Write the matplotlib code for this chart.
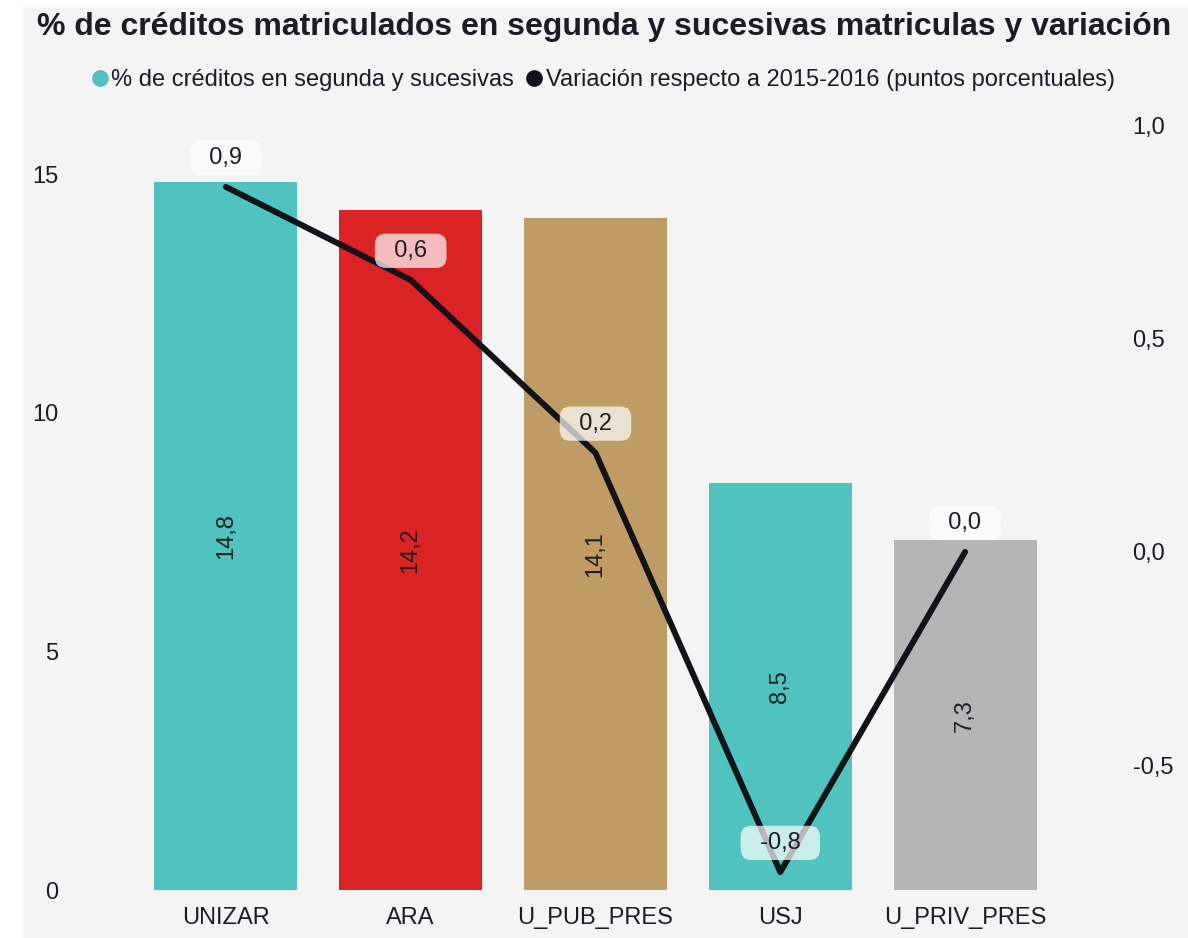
import matplotlib
matplotlib.use("Agg")
import matplotlib.pyplot as plt
from matplotlib.patches import Rectangle
from matplotlib.lines import Line2D

categories = ["UNIZAR", "ARA", "U_PUB_PRES", "USJ", "U_PRIV_PRES"]
pct_creditos = [14.83, 14.25, 14.08, 8.52, 7.33]
variacion = [0.855, 0.637, 0.232, -0.75, 0.0]
bar_colors = ["#4fc3bf", "#dc2323", "#bf9c63", "#4fc3bf", "#b5b5b5"]
left_ticks = [0, 5, 10, 15]
right_ticks = [-0.5, 0.0, 0.5, 1.0]

title = "% de créditos matriculados en segunda y sucesivas matriculas y variación"
legend_labels = ["% de créditos en segunda y sucesivas",
                 "Variación respecto a 2015-2016 (puntos porcentuales)"]

plt.rcParams['font.family'] = ['Liberation Sans', 'DejaVu Sans']
TXT = "#1c1d24"
BG = "#f4f4f4"
FS = 17

W, H = 1188, 938
fig = plt.figure(figsize=(W / 100, H / 100), dpi=100, facecolor="white")
fig.patches.append(Rectangle((23 / W, 0), 1 - 23 / W, (H - 7) / H,
                             transform=fig.transFigure, facecolor=BG,
                             edgecolor="none", zorder=-10))

def fx(px):
    return px / W

def fy(py):
    return 1 - py / H

ax_l, ax_r = 133.5, 1057.5
ax_t, ax_b = 125, 890
ax = fig.add_axes([fx(ax_l), fy(ax_b), fx(ax_r) - fx(ax_l), fy(ax_t) - fy(ax_b)])
ax.set_facecolor("none")
ax.set_xlim(-0.5, 4.5)
ax.set_ylim(0, 16.03)

x = list(range(len(categories)))
ax.bar(x, pct_creditos, width=0.773, color=bar_colors, zorder=1)
for xi, v in zip(x, pct_creditos):
    ax.text(xi, v / 2, f"{v:.1f}".replace(".", ","), rotation=90,
            ha="center", va="center", fontsize=FS, color=TXT, zorder=2)

ax.set_xticks(x)
ax.set_xticklabels(categories, fontsize=FS, color=TXT)
ax.set_yticks(left_ticks)
ax.set_yticklabels([str(t) for t in left_ticks], fontsize=FS, color=TXT)
ax.tick_params(axis="both", length=0)
ax.tick_params(axis="x", pad=12)
ax.tick_params(axis="y", pad=54)
for s in ax.spines.values():
    s.set_visible(False)

ax2 = ax.twinx()
ax2.set_ylim(-0.792, 1.0)
ax2.plot(x, variacion, color="#111318", lw=4.3, solid_capstyle="round",
         solid_joinstyle="round", zorder=3)
for xi, v in zip(x, variacion):
    ax2.annotate("  " + f"{v:.1f}".replace(".", ",") + "  ", (xi, v), xytext=(0, 21),
                 textcoords="offset points", ha="center", va="center",
                 fontsize=FS, color=TXT, zorder=4,
                 bbox=dict(boxstyle="round,pad=0.26,rounding_size=0.45",
                           fc="white", ec="none", alpha=0.7))
ax2.set_yticks(right_ticks)
ax2.set_yticklabels([f"{t:.1f}".replace(".", ",") for t in right_ticks],
                    fontsize=FS, color=TXT)
ax2.tick_params(axis="y", length=0, pad=54)
for s in ax2.spines.values():
    s.set_visible(False)

fig.text(fx(604), fy(27), title, ha="center", va="center",
         fontsize=23, fontweight="bold", color=TXT)

handles = [Line2D([], [], marker="o", ls="none", markersize=12,
                  markerfacecolor="#4fc3bf", markeredgecolor="none"),
           Line2D([], [], marker="o", ls="none", markersize=12,
                  markerfacecolor="#111318", markeredgecolor="none")]
leg = fig.legend(handles, legend_labels, loc="center", bbox_to_anchor=(fx(602), fy(80)),
                 ncol=2, frameon=False, fontsize=FS, handletextpad=0.05,
                 columnspacing=0.4, handlelength=0.9)
for t in leg.get_texts():
    t.set_color(TXT)

fig.savefig("out.png", dpi=100, facecolor="white")
